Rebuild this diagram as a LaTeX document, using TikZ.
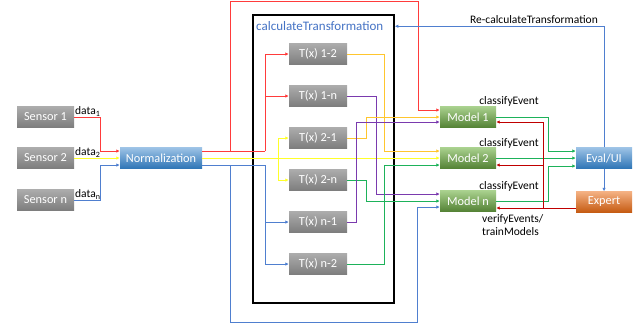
\documentclass[tikz,border=0pt]{standalone}
\usepackage{fontspec}
\setmainfont{Carlito}
\usetikzlibrary{arrows.meta,calc}
\definecolor{redl}{HTML}{FF3B3B}
\definecolor{redd}{HTML}{C00000}
\definecolor{yell}{HTML}{FFFF2A}
\definecolor{blul}{HTML}{4F7FCF}
\definecolor{oral}{HTML}{FFC62E}
\definecolor{purl}{HTML}{7A3AAE}
\definecolor{grnl}{HTML}{1DB25A}
\definecolor{titleblue}{HTML}{4472C4}
\begin{document}
\begin{tikzpicture}[x=1pt,y=-1pt,
  base/.style={minimum height=21pt, inner sep=0pt, text=white, font=\fontsize{12.3}{13}\selectfont},
  graybox/.style={base, minimum width=57pt, top color={rgb,255:red,172;green,172;blue,172}, bottom color={rgb,255:red,125;green,125;blue,125}},
  bluebox/.style={base, top color={rgb,255:red,157;green,195;blue,230}, bottom color={rgb,255:red,46;green,117;blue,182}},
  greenbox/.style={base, minimum width=56pt, top color={rgb,255:red,169;green,209;blue,142}, bottom color={rgb,255:red,84;green,130;blue,53}},
  orangebox/.style={base, minimum width=56pt, top color={rgb,255:red,244;green,177;blue,131}, bottom color={rgb,255:red,197;green,90;blue,17}},
  arr/.style={-{Latex[length=3.5pt,width=3.5pt]}},
  conn/.style={line width=1pt},
  lbl/.style={font=\fontsize{11.5}{13}\selectfont, inner sep=0pt, text=black}
]
\useasboundingbox (0,0) rectangle (644,330);

% frame
\node[draw=black, line width=1.6pt, minimum width=141pt, minimum height=288pt, inner sep=0pt] (ct) at (323.5,159) {};
\node[font=\fontsize{13}{14}\selectfont, text=titleblue, anchor=west, inner sep=0pt] (cttitle) at (256,26) {calculateTransformation};

% sensors
\node[graybox] (s1) at (45.5,117) {Sensor 1};
\node[graybox] (s2) at (45.5,158) {Sensor 2};
\node[graybox] (sn) at (45.5,200) {Sensor n};
\node[bluebox, minimum width=82pt] (norm) at (161,158) {Normalization};

% transformations
\node[graybox, minimum width=58pt] (t12) at (318,54) {T(x) 1-2};
\node[graybox, minimum width=58pt] (t1n) at (318,96) {T(x) 1-n};
\node[graybox, minimum width=58pt] (t21) at (318,138) {T(x) 2-1};
\node[graybox, minimum width=58pt] (t2n) at (318,180) {T(x) 2-n};
\node[graybox, minimum width=58pt] (tn1) at (318,222) {T(x) n-1};
\node[graybox, minimum width=58pt] (tn2) at (318,264) {T(x) n-2};

% models
\node[greenbox] (m1) at (468,117) {Model 1};
\node[greenbox] (m2) at (468,158) {Model 2};
\node[greenbox] (mn) at (468,201) {Model n};

\node[bluebox, minimum width=56pt] (eval) at (604,158) {Eval/UI};
\node[orangebox] (expert) at (604,202) {Expert};

% labels
\node[lbl, anchor=south west] (d1) at (75,116.5) {data\textsubscript{1}};
\node[lbl, anchor=south west] (d2) at (75,157.5) {data\textsubscript{2}};
\node[lbl, anchor=south west] (dn) at (75,199.5) {data\textsubscript{n}};
\node[lbl] (c1) at (509,101) {classifyEvent};
\node[lbl] (c2) at (509,143) {classifyEvent};
\node[lbl] (c3) at (509,186) {classifyEvent};
\node[lbl, anchor=north west, align=left] (vt) at (482,214) {verifyEvents/\\trainModels};
\node[lbl] (rc) at (534,20) {Re-calculateTransformation};

% sensor -> normalization
\draw[conn, redl, arr] (s1.east) -- (100,117) |- ($(norm.west)+(0,-7)$);
\draw[conn, yell, arr] (s2.east) -- (norm.west);
\draw[conn, blul, arr] (sn.east) -- (100,200) |- ($(norm.west)+(0,7)$);

% red from normalization
\draw[conn, redl] ($(norm.east)+(0,-7)$) -- (265,151);
\draw[conn, redl, arr] (265,151) |- (t12.west);
\draw[conn, redl, arr] (265,151) |- (t1n.west);
\draw[conn, redl, arr] (230,151) |- (418,1) -- (418,110) -- ($(m1.west)+(0,-7)$);

% yellow from normalization
\draw[conn, yell, arr] (norm.east) -- (m2.west);
\draw[conn, yell, arr] (278,158) |- (t21.west);
\draw[conn, yell, arr] (278,158) |- (t2n.west);

% blue from normalization
\draw[conn, blul] ($(norm.east)+(0,7)$) -- (265,165);
\draw[conn, blul, arr] (265,165) |- (tn1.west);
\draw[conn, blul, arr] (265,165) |- (tn2.west);
\draw[conn, blul, arr] (230,165) |- (417,322) -- (417,207) -- ($(mn.west)+(0,6)$);

% transformation outputs
\draw[conn, oral, arr] (t12.east) -| (384,151) -- ($(m2.west)+(0,-7)$);
\draw[conn, purl, arr] (t1n.east) -| (376,194) -- ($(mn.west)+(0,-7)$);
\draw[conn, oral, arr] (t21.east) -| (366,117) -- (m1.west);
\draw[conn, grnl, arr] (t2n.east) -| (366,201) -- (mn.west);
\draw[conn, purl, arr] (tn1.east) -| (356,122) -- ($(m1.west)+(0,5)$);
\draw[conn, grnl, arr] (tn2.east) -| (384,165) -- ($(m2.west)+(0,7)$);

% model outputs
\draw[conn, grnl, arr] (m1.east) -| (548,151) -- ($(eval.west)+(0,-7)$);
\draw[conn, grnl, arr] (m2.east) -- (eval.west);
\draw[conn, grnl, arr] (mn.east) -| (548,166) -- ($(eval.west)+(0,8)$);

% feedback
\coordinate (fb) at ($(expert.west)+(0,6)$);
\draw[conn, redd, arr] (fb) -- (mn.east |- fb);
\draw[conn, redd, arr] (543,208) |- ($(m1.east)+(0,5)$);
\draw[conn, redd, arr] (543,165) -- ($(m2.east)+(0,7)$);

% eval
\draw[conn, blul, arr] (eval.south) -- (expert.north);
\draw[conn, blul, arr] (eval.north) |- ($(ct.north east)+(0,12)$);
\end{tikzpicture}
\end{document}
